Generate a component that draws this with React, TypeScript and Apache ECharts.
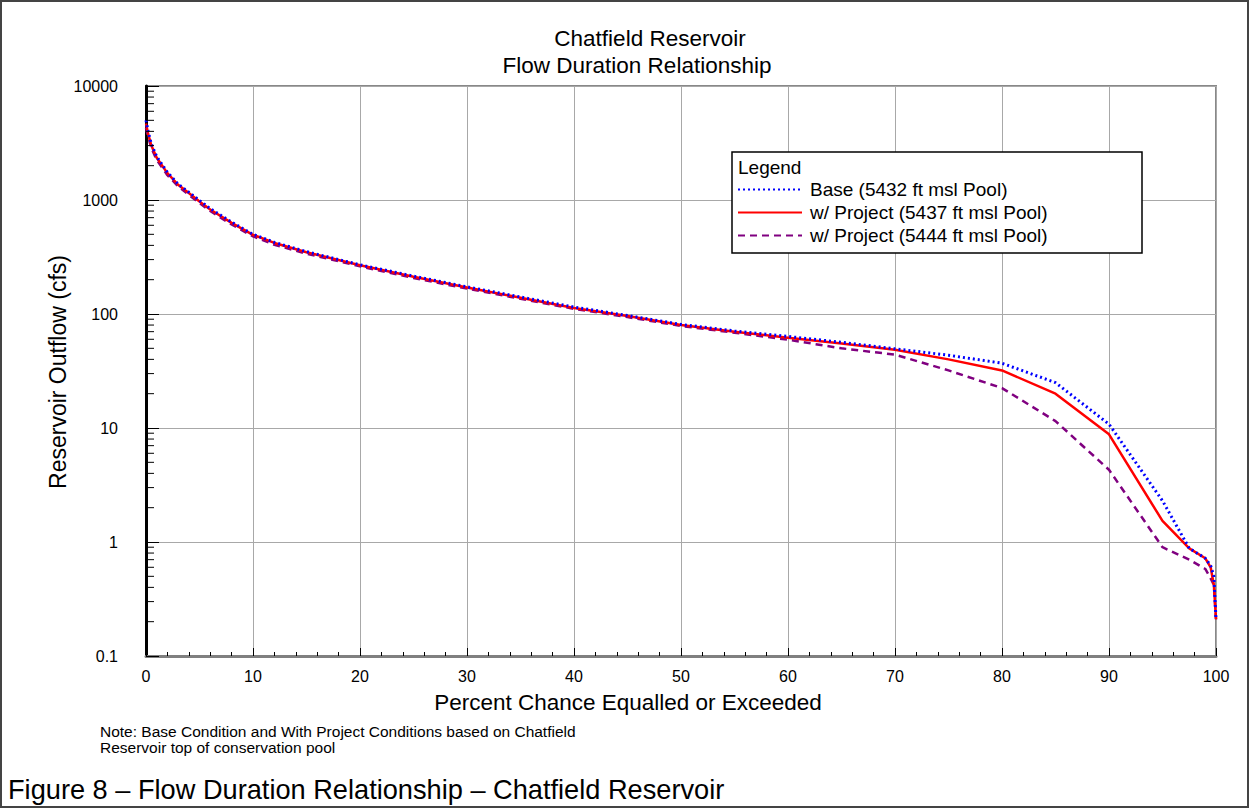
import React, { useEffect, useRef } from "react";
import * as echarts from "echarts";

const FONT = "'Liberation Sans', Arial, sans-serif";

const pct = [0, 0.2, 0.5, 1, 2, 3, 4, 5, 6, 8, 10, 12, 15, 20, 25, 30, 35, 40, 45, 50, 55, 60, 65, 70, 75, 80, 85, 90, 95, 97.5, 99, 99.5, 99.8, 100];

const base5432 = [5000, 4000, 3100, 2400, 1750, 1380, 1170, 990, 840, 640, 500, 425, 352, 270, 215, 173, 141, 115, 97, 81, 71, 63.5, 56.5, 49.5, 43.5, 37, 25, 10.8, 2.3, 0.88, 0.72, 0.62, 0.5, 0.21];
const proj5437 = [4700, 3800, 3000, 2350, 1720, 1360, 1150, 970, 825, 630, 495, 420, 348, 268, 212, 171, 139, 113, 96, 80, 70, 62, 55, 48.5, 40, 32, 20, 8.8, 1.53, 0.88, 0.72, 0.6, 0.42, 0.21];
const proj5444 = [4300, 3600, 2850, 2250, 1650, 1320, 1110, 940, 800, 610, 480, 405, 338, 262, 207, 167, 136, 111, 94, 78.5, 68.5, 59.5, 50, 44, 32, 22.4, 11.5, 4.3, 0.9, 0.7, 0.58, 0.48, 0.42, 0.21];

const seriesNames = ["Base (5432 ft msl Pool)", "w/ Project (5437 ft msl Pool)", "w/ Project (5444 ft msl Pool)"];
const decades = [0.1, 1, 10, 100, 1000];
const minorMultipliers = [2, 3, 4, 5, 6, 7, 8, 9];

const titleLines = ["Chatfield Reservoir", "Flow Duration Relationship"];
const xName = "Percent Chance Equalled or Exceeded";
const yName = "Reservoir Outflow (cfs)";
const noteLines = ["Note: Base Condition and With Project Conditions based on Chatfield", "Reservoir top of conservation pool"];
const caption = "Figure 8 \u2013 Flow Duration Relationship \u2013 Chatfield Reservoir";

export default function App() {
  const ref = useRef<HTMLDivElement>(null);
  useEffect(() => {
    document.body.style.margin = "0";
    const chart = echarts.init(ref.current!, null, { renderer: "svg" });
    const pair = (ys: number[]) => pct.map((x, i) => [x, ys[i]]);
    const yMinor: number[][] = [];
    decades.forEach((d) => minorMultipliers.forEach((m) => yMinor.push([0, +(d * m).toPrecision(3)])));
    chart.setOption({
      animation: false,
      textStyle: { fontFamily: FONT },
      grid: { left: 146, right: 34, top: 86, bottom: 153, show: true, borderColor: "#888", borderWidth: 2, backgroundColor: "transparent" },
      legend: {
        left: 737, top: 180, padding: 0, orient: "vertical", itemWidth: 64, itemHeight: 14, itemGap: 4, z: 30,
        itemStyle: { color: "rgba(0,0,0,0)", borderWidth: 0 },
        data: seriesNames, textStyle: { fontSize: 19, color: "#000", fontFamily: FONT, padding: [0, 0, 0, 3] },
      },
      xAxis: {
        type: "value", min: 0, max: 100, interval: 10,
        axisLine: { show: true, lineStyle: { color: "#808080", width: 3 } },
        axisTick: { show: true, inside: true, length: 8, lineStyle: { color: "#000", width: 1 } },
        minorTick: { show: true, splitNumber: 5, length: 4, lineStyle: { color: "#000", width: 1 } },
        splitLine: { show: true, lineStyle: { color: "#a8a8a8", width: 1 } },
        axisLabel: { fontSize: 16, color: "#000", margin: 12, fontFamily: FONT },
      },
      yAxis: {
        type: "log", logBase: 10, min: 0.1, max: 10000,
        axisLine: { show: true, lineStyle: { color: "#000", width: 3 } },
        axisTick: { show: true, inside: true, length: 13, lineStyle: { color: "#000", width: 1 } },
        splitLine: { show: true, lineStyle: { color: "#a8a8a8", width: 1 } },
        axisLabel: { fontSize: 16, color: "#000", margin: 28, fontFamily: FONT, formatter: (v: number) => String(v) },
      },
      series: [
        { name: seriesNames[0], type: "line", data: pair(base5432), symbol: "none", z: 4, lineStyle: { color: "#0000ff", width: 3, type: [2, 3] }, itemStyle: { color: "#0000ff" } },
        { name: seriesNames[1], type: "line", data: pair(proj5437), symbol: "none", z: 3, lineStyle: { color: "#ff0000", width: 2.5, type: "solid" }, itemStyle: { color: "#ff0000" } },
        { name: seriesNames[2], type: "line", data: pair(proj5444), symbol: "none", z: 2, lineStyle: { color: "#800080", width: 2.5, type: [7, 5] }, itemStyle: { color: "#800080" } },
        {
          type: "custom", silent: true, data: yMinor, encode: { x: 0, y: 1 }, z: 5,
          renderItem: (_p: any, api: any) => {
            const p = api.coord([0, api.value(1)]);
            return { type: "line", shape: { x1: p[0], y1: p[1], x2: p[0] + 8, y2: p[1] }, style: { stroke: "#000", lineWidth: 1 } };
          },
        },
      ],
      graphic: [
        { type: "rect", z: 0, shape: { x: 1, y: 1, width: 1247, height: 806 }, style: { fill: "none", stroke: "#444", lineWidth: 2 }, silent: true },
        { type: "text", x: 650, y: 38, style: { text: titleLines[0], fontSize: 22.5, fill: "#000", fontFamily: FONT, textAlign: "center", textVerticalAlign: "middle" } },
        { type: "text", x: 637, y: 65, style: { text: titleLines[1], fontSize: 22.5, fill: "#000", fontFamily: FONT, textAlign: "center", textVerticalAlign: "middle" } },
        { type: "text", x: 58, y: 372, rotation: Math.PI / 2, style: { text: yName, fontSize: 23, fill: "#000", fontFamily: FONT, textAlign: "center", textVerticalAlign: "middle" } },
        { type: "text", x: 628, y: 702, style: { text: xName, fontSize: 22.5, fill: "#000", fontFamily: FONT, textAlign: "center", textVerticalAlign: "middle" } },
        { type: "rect", z: 1, shape: { x: 732, y: 152, width: 410, height: 101 }, style: { fill: "#fff", stroke: "#000", lineWidth: 1.5 } },
        { type: "text", z: 2, x: 738, y: 167, style: { text: "Legend", fontSize: 19, fill: "#000", fontFamily: FONT, textVerticalAlign: "middle" } },
        { type: "text", x: 100, y: 731, style: { text: noteLines[0], fontSize: 15.5, fill: "#000", fontFamily: FONT, textVerticalAlign: "middle" } },
        { type: "text", x: 100, y: 747, style: { text: noteLines[1], fontSize: 15.5, fill: "#000", fontFamily: FONT, textVerticalAlign: "middle" } },
        { type: "text", x: 8, y: 789, style: { text: caption, fontSize: 27.2, fill: "#000", fontFamily: FONT, textVerticalAlign: "middle" } },
      ],
    });
    return () => chart.dispose();
  }, []);
  return <div ref={ref} style={{ width: 1250, height: 809 }} />;
}
